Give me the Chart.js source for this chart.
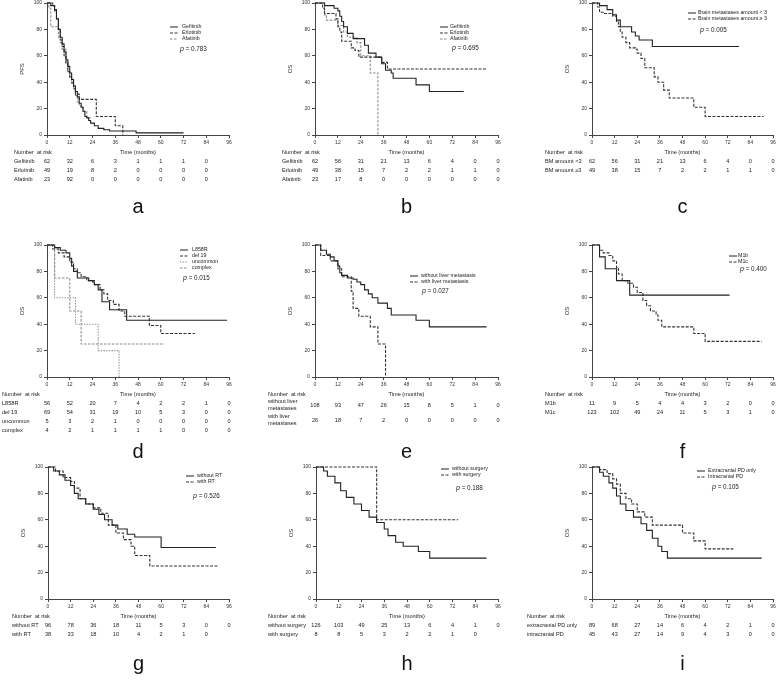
<!DOCTYPE html>
<html lang="en">
<head>
<meta charset="UTF-8">
<title>Kaplan-Meier curves</title>
<script src="https://cdn.jsdelivr.net/npm/chart.js"></script>
<style>
    body { margin: 0; background: #fff; width: 778px; height: 698px; overflow: hidden; position: relative; }
    canvas { position: absolute; }
</style>
</head>
<body>

<script>
    // ---- data (time in months, survival in %) ----
    var months = [0, 12, 24, 36, 48, 60, 72, 84, 96]

    // a: PFS by TKI
    var pfsGefitinib = [[0,100],[2,98],[4,95],[5,88],[6,80],[7,74],[8,69],[9,63],[10,57],[11,52],[12,47],[13,42],[14,37],[15,33],[16,29],[17,24],[18,21],[19,18],[20,14],[21,13],[22,11],[23,9],[25,7],[27,5],[30,4],[33,3],[47,1.6],[72,1.6]]
    var pfsErlotinib = [[0,100],[3,98],[4,94],[5,88],[6,80],[7,72],[8,67],[9,60],[10,54],[11,48],[12,44],[13,40],[14,35],[15,31],[17,27],[26,14],[36,7],[40,0]]
    var pfsAfatinib = [[0,100],[1,96],[2,82],[5,82],[6,74],[7,70],[8,65],[10,55],[11,48],[12,44],[13,39],[14,35],[15,30],[16,25],[17,22],[19,18],[21,13],[23,13]]
    var riskALabels = ['Gefitinib', 'Erlotinib', 'Afatinib']
    var riskA = [[62,32,6,3,1,1,1,0], [49,19,8,2,0,0,0,0], [23,92,0,0,0,0,0,0]]

    // b: OS by TKI
    var osGefitinib = [[0,100],[5,98],[10,96],[12,94],[13,90],[14,86],[15,82],[17,77],[20,73],[26,68],[28,62],[32,59],[35,54],[37,49],[40,47],[41,43],[53,38],[60,33],[78,33]]
    var osErlotinib = [[0,100],[4,96],[5,92],[11,88],[12,82],[13,78],[14,71],[19,66],[21,64],[23,59],[35,55],[38,50],[90,50]]
    var osAfatinib = [[0,100],[5,91],[6,87],[12,83],[15,78],[17,74],[22,70],[24,60],[29,47],[33,0]]
    var riskBLabels = ['Gefitinib', 'Erlotinib', 'Afatinib']
    var riskB = [[62,56,31,21,13,6,4,0,0], [49,38,15,7,2,2,1,1,0], [23,17,8,0,0,0,0,0,0]]

    // c: brain metastases amount
    var osBmLt3 = [[0,100],[4,98],[8,95],[11,91],[13,87],[15,82],[21,78],[23,75],[25,72],[32,67],[78,67]]
    var osBmGe3 = [[0,100],[3,97],[4,93],[6,92],[11,90],[13,86],[14,82],[15,78],[16,74],[18,70],[20,66],[23,65],[24,62],[26,58],[28,51],[33,44],[35,40],[38,34],[41,28],[54,21],[60,14],[91,14]]
    var riskCLabels = ['BM amount <3', 'BM amount \u22653']
    var riskC = [[62,56,31,21,13,6,4,0,0], [49,38,15,7,2,2,1,1,0]]

    // d: EGFR mutation type
    var osL858R = [[0,100],[4,98],[7,96],[10,94],[12,90],[13,84],[14,80],[16,75],[22,73],[24,72],[25,70],[27,66],[29,57],[33,51],[42,43],[95,43]]
    var osDel19 = [[0,100],[3,97],[6,94],[9,91],[12,87],[14,82],[16,79],[18,76],[21,73],[25,70],[28,66],[30,63],[32,58],[35,55],[38,50],[41,46],[54,39],[60,33],[78,33]]
    var osUncommon = [[0,100],[4,60],[15,40],[27,20],[38,0]]
    var osComplex = [[0,100],[4,75],[12,50],[18,25],[62,25]]
    var riskDLabels = ['L858R', 'del 19', 'uncommon', 'complex']
    var riskD = [[56,52,20,7,4,2,2,1,0], [69,54,31,19,10,5,3,0,0], [5,3,2,1,0,0,0,0,0], [4,2,1,1,1,1,0,0,0]]

    // e: liver metastasis
    var osNoLiver = [[0,100],[3,96],[6,93],[8,91],[10,88],[12,84],[13,79],[14,77],[17,75],[20,74],[22,72],[24,70],[26,66],[28,63],[30,60],[33,56],[38,52],[40,47],[53,43],[60,38],[90,38]]
    var osLiver = [[0,100],[3,92],[8,88],[12,82],[14,76],[19,65],[20,52],[23,46],[29,38],[33,25],[37,0]]
    var riskELabels = ['without liver\nmetastases', 'with liver\nmetastases']
    var riskE = [[108,93,47,26,15,8,5,1,0], [26,18,7,2,0,0,0,0,0]]

    // f: M stage
    var osM1b = [[0,100],[4,91],[7,82],[13,73],[20,62],[73,62]]
    var osM1c = [[0,100],[4,96],[6,94],[9,92],[11,88],[13,83],[14,78],[16,73],[19,71],[22,68],[24,64],[27,58],[29,54],[31,50],[34,47],[35,43],[37,38],[54,33],[60,27],[90,27]]
    var riskFLabels = ['M1b', 'M1c']
    var riskF = [[11,9,5,4,4,3,2,0,0], [123,102,49,24,11,5,3,1,0]]

    // g: radiotherapy
    var osNoRT = [[0,100],[3,97],[6,94],[9,90],[12,86],[14,80],[16,76],[20,72],[24,68],[27,64],[30,60],[34,56],[37,53],[42,49],[46,47],[60,39],[89,39]]
    var osRT = [[0,100],[4,97],[8,92],[12,89],[14,84],[17,76],[20,72],[24,69],[28,65],[32,56],[36,50],[40,45],[44,40],[46,33],[54,25],[90,25]]
    var riskGLabels = ['without RT', 'with RT']
    var riskG = [[96,78,36,18,11,5,3,0,0], [38,33,18,10,4,2,1,0]]

    // h: surgery
    var osNoSurgery = [[0,100],[4,97],[6,93],[10,88],[13,82],[16,77],[20,72],[24,67],[28,62],[32,58],[36,53],[38,48],[42,43],[46,40],[54,36],[60,31],[90,31]]
    var osSurgery = [[0,100],[32,60],[75,60]]
    var riskHLabels = ['without surgery', 'with surgery']
    var riskH = [[126,103,49,25,13,6,4,1,0], [8,8,5,3,2,2,1,0]]

    // i: progression site
    var osExtracranial = [[0,100],[4,96],[6,93],[9,88],[11,84],[13,78],[15,72],[18,67],[22,62],[26,57],[29,52],[32,46],[35,40],[37,36],[40,31],[90,31]]
    var osIntracranial = [[0,100],[4,98],[8,95],[11,91],[13,87],[15,80],[18,76],[21,72],[24,66],[28,62],[32,56],[48,50],[54,44],[60,38],[75,38]]
    var riskILabels = ['extracranial PD only', 'intracranial PD']
    var riskI = [[89,68,27,14,6,4,2,1,0], [45,43,27,14,9,4,3,0,0]]

    // ---- styles ----
    var FONT = '"Liberation Sans", Arial, sans-serif'
    var SOLID = { color: '#222', dash: [] }
    var DASH = { color: '#333', dash: [3, 1.5] }
    var GREY = { color: '#8a8a8a', dash: [2.5, 1.5] }
    var GREY2 = { color: '#9a9a9a', dash: [1.5, 1.2] }

    var colLeft = [0, 258, 518]
    var rowTop = [-9, 233, 455]

    var panels = [
        { letter: 'a', col: 0, row: 0, yTitle: 'PFS', p: '0.783', labelX: 14, letterDy: 72, chartL: 47, chartR: 229,
          series: [[pfsGefitinib, 'Gefitinib', SOLID], [pfsErlotinib, 'Erlotinib', DASH], [pfsAfatinib, 'Afatinib', GREY]],
          riskLabels: riskALabels, risk: riskA, legend: { x: 170, y: 36, text: 182, px: 180, py: 58 } },
        { letter: 'b', col: 1, row: 0, yTitle: 'OS', p: '0.695', labelX: 24, letterDy: 72, chartL: 57, chartR: 240,
          series: [[osGefitinib, 'Gefitinib', SOLID], [osErlotinib, 'Erlotinib', DASH], [osAfatinib, 'Afatinib', GREY]],
          riskLabels: riskBLabels, risk: riskB, legend: { x: 182, y: 36, text: 192, px: 194, py: 57 } },
        { letter: 'c', col: 2, row: 0, yTitle: 'OS', p: '0.005', labelX: 27, letterDy: 72, chartL: 74, chartR: 255,
          series: [[osBmLt3, 'Brain metastases amount < 3', SOLID], [osBmGe3, 'Brain metastases amount \u2265 3', DASH]],
          riskLabels: riskCLabels, risk: riskC, legend: { x: 170, y: 22, text: 180, px: 182, py: 39 } },
        { letter: 'd', col: 0, row: 1, yTitle: 'OS', p: '0.015', labelX: 2, letterDy: 75, chartL: 47, chartR: 229,
          series: [[osL858R, 'L858R', SOLID], [osDel19, 'del 19', DASH], [osUncommon, 'uncommon', GREY2], [osComplex, 'complex', GREY]],
          riskLabels: riskDLabels, risk: riskD, legend: { x: 180, y: 17, text: 192, px: 183, py: 45 } },
        { letter: 'e', col: 1, row: 1, yTitle: 'OS', p: '0.027', labelX: 10, letterDy: 75, chartL: 57, chartR: 240, rowGap: 15, rowStart: 28,
          series: [[osNoLiver, 'without liver metastasis', SOLID], [osLiver, 'with liver metastasis', DASH]],
          riskLabels: riskELabels, risk: riskE, legend: { x: 152, y: 43, text: 163, px: 164, py: 58 } },
        { letter: 'f', col: 2, row: 1, yTitle: 'OS', p: '0.400', labelX: 27, letterDy: 75, chartL: 74, chartR: 255,
          series: [[osM1b, 'M1b', SOLID], [osM1c, 'M1c', DASH]],
          riskLabels: riskFLabels, risk: riskF, legend: { x: 211, y: 23, text: 220, px: 222, py: 36 } },
        { letter: 'g', col: 0, row: 2, yTitle: 'OS', p: '0.526', labelX: 12, letterDy: 65, chartL: 48, chartR: 229,
          series: [[osNoRT, 'without RT', SOLID], [osRT, 'with RT', DASH]],
          riskLabels: riskGLabels, risk: riskG, legend: { x: 186, y: 21, text: 197, px: 193, py: 41 } },
        { letter: 'h', col: 1, row: 2, yTitle: 'OS', p: '0.188', labelX: 10, letterDy: 65, chartL: 58, chartR: 240,
          series: [[osNoSurgery, 'without surgery', SOLID], [osSurgery, 'with surgery', DASH]],
          riskLabels: riskHLabels, risk: riskH, legend: { x: 183, y: 14, text: 194, px: 198, py: 33 } },
        { letter: 'i', col: 2, row: 2, yTitle: 'OS', p: '0.105', labelX: 9, letterDy: 65, chartL: 74, chartR: 255,
          series: [[osExtracranial, 'Extracranial PD only', SOLID], [osIntracranial, 'Intracranial PD', DASH]],
          riskLabels: riskILabels, risk: riskI, legend: { x: 179, y: 16, text: 190, px: 194, py: 32 } }
    ]

    // draws legend, p value, risk table and panel letter
    var extras = {
        id: 'extras',
        afterDraw: function (chart) {
            var o = chart.options.plugins.extras
            var ctx = chart.ctx
            var area = chart.chartArea
            var xs = chart.scales.x
            var mid = (area.left + area.right) / 2
            ctx.save()
            ctx.fillStyle = '#222'
            ctx.textBaseline = 'middle'
            ctx.font = '5.3px ' + FONT

            // legend
            chart.data.datasets.forEach(function (ds, i) {
                var y = o.legend.y + i * 6
                ctx.beginPath()
                ctx.strokeStyle = ds.borderColor
                ctx.lineWidth = 1
                ctx.setLineDash(ds.borderDash || [])
                ctx.moveTo(o.legend.x, y)
                ctx.lineTo(o.legend.x + 8, y)
                ctx.stroke()
                ctx.setLineDash([])
                ctx.textAlign = 'left'
                ctx.fillText(ds.label, o.legend.text, y)
            })
            ctx.font = 'italic 7px ' + FONT
            ctx.fillText('p', o.legend.px, o.legend.py)
            var pw = ctx.measureText('p').width
            ctx.font = '6.3px ' + FONT
            ctx.fillText(' = ' + o.p, o.legend.px + pw, o.legend.py)

            // risk table
            ctx.font = '5.6px ' + FONT
            ctx.textAlign = 'left'
            ctx.fillText('Number  at risk', o.labelX, area.bottom + 17)
            ctx.textAlign = 'center'
            ctx.fillText('Time (months)', mid, area.bottom + 17)
            var gap = o.rowGap || 9.3
            var start = o.rowStart || 26
            o.risk.forEach(function (vals, i) {
                var y = area.bottom + start + i * gap
                var lines = o.riskLabels[i].split('\n')
                ctx.textAlign = 'left'
                lines.forEach(function (t, k) {
                    ctx.fillText(t, o.labelX, y + (k - (lines.length - 1) / 2) * 6.5)
                })
                ctx.textAlign = 'center'
                vals.forEach(function (v, j) {
                    ctx.fillText(String(v), xs.getPixelForValue(months[j]), y)
                })
            })

            // panel letter
            ctx.font = '20px ' + FONT
            ctx.fillStyle = '#111'
            ctx.fillText(o.letter, mid, area.bottom + o.letterDy)
            ctx.restore()
        }
    }

    var W = 260, H = 232

    panels.forEach(function (pn) {
        var canvas = document.createElement('canvas')
        canvas.width = W
        canvas.height = H
        canvas.style.left = colLeft[pn.col] + 'px'
        canvas.style.top = rowTop[pn.row] + 'px'
        document.body.appendChild(canvas)

        var tickFont = { family: FONT, size: 5 }
        new Chart(canvas, {
            type: 'line',
            data: {
                datasets: pn.series.map(function (s) {
                    return {
                        label: s[1],
                        data: s[0].map(function (p) { return { x: p[0], y: p[1] } }),
                        borderColor: s[2].color,
                        borderDash: s[2].dash,
                        borderWidth: 1.1,
                        stepped: 'before',
                        pointRadius: 0,
                        fill: false,
                        clip: 3
                    }
                })
            },
            options: {
                responsive: false,
                animation: false,
                events: [],
                layout: {
                    autoPadding: false,
                    padding: { left: pn.chartL - 30, right: W - pn.chartR, top: 12, bottom: H - 144 - 12 }
                },
                plugins: {
                    legend: { display: false },
                    tooltip: { enabled: false },
                    extras: {
                        letter: pn.letter, p: pn.p, legend: pn.legend, labelX: pn.labelX,
                        risk: pn.risk, riskLabels: pn.riskLabels, letterDy: pn.letterDy,
                        rowGap: pn.rowGap, rowStart: pn.rowStart
                    }
                },
                scales: {
                    x: {
                        type: 'linear', min: 0, max: 96,
                        ticks: { stepSize: 12, font: tickFont, color: '#333', padding: 2, maxRotation: 0, autoSkip: false },
                        grid: { drawOnChartArea: false, tickLength: 3, tickColor: '#444' },
                        border: { color: '#444', width: 1 },
                        afterFit: function (s) { s.height = 12 }
                    },
                    y: {
                        min: 0, max: 100,
                        ticks: { stepSize: 20, font: tickFont, color: '#333', padding: 2 },
                        grid: { drawOnChartArea: false, tickLength: 3, tickColor: '#444' },
                        border: { color: '#444', width: 1 },
                        title: { display: true, text: pn.yTitle, font: { family: FONT, size: 6 }, color: '#333', padding: { top: 2, bottom: 2 } },
                        afterFit: function (s) { s.width = 30 }
                    }
                }
            },
            plugins: [extras]
        })
    })
</script>

</body>
</html>
